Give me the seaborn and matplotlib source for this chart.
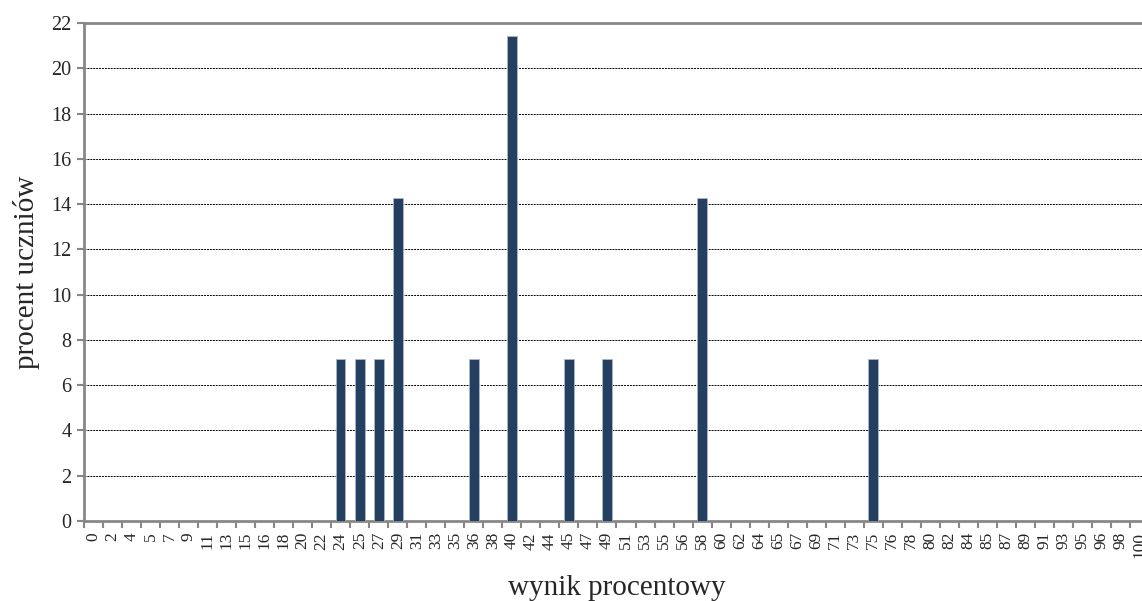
import pandas as pd
import matplotlib
matplotlib.use('Agg')
import matplotlib.pyplot as plt
from matplotlib.ticker import FixedLocator
import seaborn as sns

# kategorie (wynik procentowy)
categories = ['0', '2', '4', '5', '7', '9', '11', '13', '15', '16', '18', '20', '22', '24',
              '25', '27', '29', '31', '33', '35', '36', '38', '40', '42', '44', '45', '47',
              '49', '51', '53', '55', '56', '58', '60', '62', '64', '65', '67', '69', '71',
              '73', '75', '76', '78', '80', '82', '84', '85', '87', '89', '91', '93', '95',
              '96', '98', '100']

# procent uczniów dla wyników, które wystąpiły
nonzero = {'24': 7.14, '25': 7.14, '27': 7.14, '29': 14.29, '36': 7.14,
           '40': 21.43, '45': 7.14, '49': 7.14, '58': 14.29, '75': 7.14}

values = [nonzero.get(c, 0.0) for c in categories]
df = pd.DataFrame({'wynik': categories, 'procent': values})

sns.set_style('white')
plt.rcParams['font.family'] = ['Liberation Serif', 'DejaVu Serif']

fig = plt.figure(figsize=(11.42, 6.01), dpi=100)
ax = fig.add_axes([84 / 1142, 1 - 521 / 601, (1149 - 84) / 1142, (521 - 23) / 601])

sns.barplot(data=df, x='wynik', y='procent', order=categories, color='#243F60',
            saturation=1, width=0.5, edgecolor='#A9B8CC', linewidth=0.6, ax=ax, zorder=3)

ax.set_xlim(-0.5, len(categories) - 0.5)
ax.set_ylim(0, 22)
ax.set_yticks(range(0, 23, 2))
ax.yaxis.grid(True, color='black', linestyle=(0, (2, 1)), linewidth=0.7, zorder=0)
ax.xaxis.grid(False)

# etykiety na środku, kreski na granicach kategorii
ax.set_xticks(range(len(categories)))
ax.set_xticklabels(categories, rotation=90, fontsize=12.5)
ax.xaxis.set_minor_locator(FixedLocator([i - 0.5 for i in range(len(categories) + 1)]))
ax.tick_params(axis='x', which='major', length=0, pad=8)
ax.tick_params(axis='x', which='minor', length=5, width=1.5, color='#878787', direction='out', bottom=True)
ax.tick_params(axis='y', length=5, width=1.5, color='#878787', direction='out', left=True, labelsize=14.5, pad=4)

for side in ['left', 'bottom', 'top']:
    ax.spines[side].set_color('#878787')
    ax.spines[side].set_linewidth(2)
ax.spines['right'].set_visible(False)

ax.set_xlabel('wynik procentowy', fontsize=21, labelpad=12)
ax.set_ylabel('procent uczniów', fontsize=21, labelpad=8)

fig.savefig('out.png', dpi=100)
